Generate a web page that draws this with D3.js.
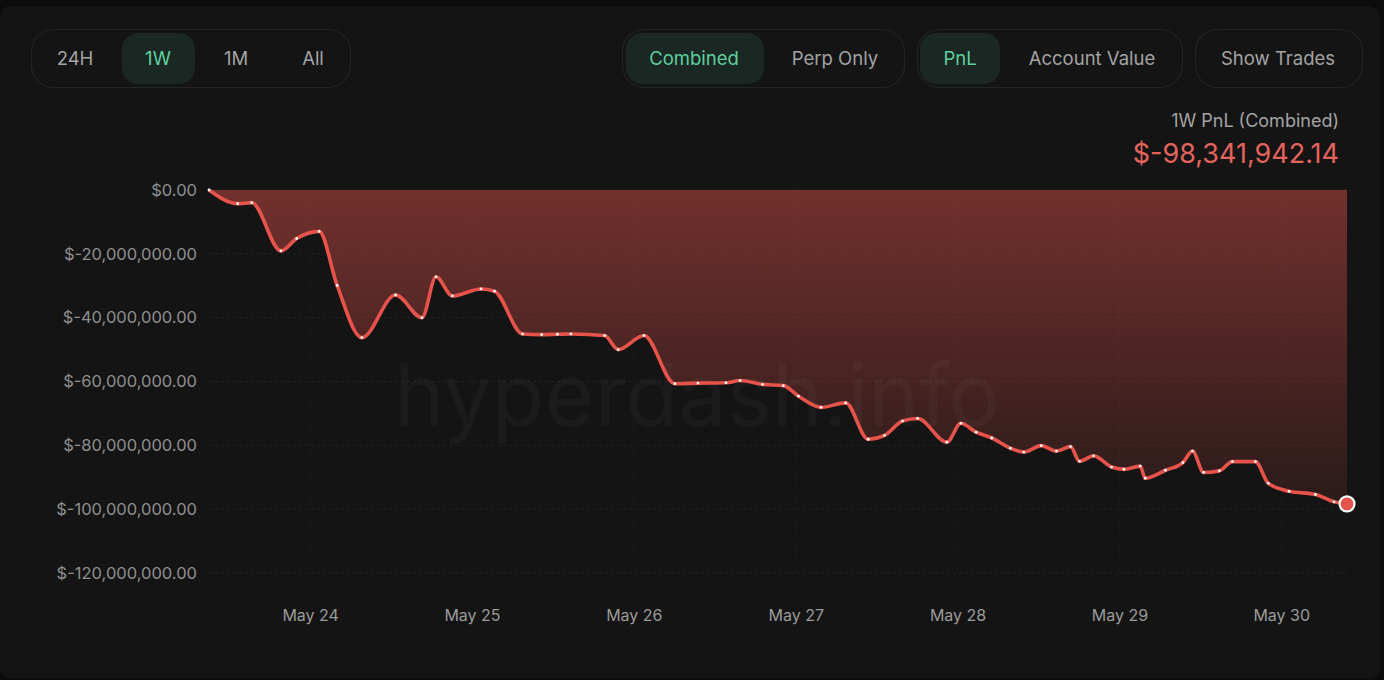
<!DOCTYPE html>
<html><head><meta charset="utf-8">
<script src="https://cdn.jsdelivr.net/npm/d3@7"></script>
<style>
html,body{margin:0;padding:0;background:#0c0c0c;overflow:hidden;}
svg{display:block;font-family:Inter,"Noto Sans",sans-serif;}
</style></head>
<body>
<svg id="c" width="1384" height="680"></svg>
<script>
// ---- data ----
const times = [
"2024-05-23T09:00","2024-05-23T13:15","2024-05-23T15:20","2024-05-23T19:40","2024-05-23T22:00",
"2024-05-24T01:20","2024-05-24T04:00","2024-05-24T07:40","2024-05-24T12:40","2024-05-24T16:35",
"2024-05-24T18:40","2024-05-24T21:05","2024-05-25T01:20","2024-05-25T03:20","2024-05-25T07:30",
"2024-05-25T10:20","2024-05-25T12:40","2024-05-25T14:40","2024-05-25T19:40","2024-05-25T21:40",
"2024-05-26T01:30","2024-05-26T06:05","2024-05-26T09:30","2024-05-26T13:40","2024-05-26T15:45",
"2024-05-26T19:05","2024-05-26T22:10","2024-05-27T00:25","2024-05-27T03:45","2024-05-27T07:25",
"2024-05-27T10:45","2024-05-27T13:10","2024-05-27T15:50","2024-05-27T18:05","2024-05-27T22:25",
"2024-05-28T00:30","2024-05-28T02:45","2024-05-28T05:05","2024-05-28T07:50","2024-05-28T09:50",
"2024-05-28T12:25","2024-05-28T14:40","2024-05-28T16:45","2024-05-28T18:05","2024-05-28T20:10",
"2024-05-28T22:50","2024-05-29T00:40","2024-05-29T03:05","2024-05-29T03:50","2024-05-29T06:50",
"2024-05-29T09:25","2024-05-29T10:50","2024-05-29T12:30","2024-05-29T14:50","2024-05-29T16:45",
"2024-05-29T20:10","2024-05-29T22:05","2024-05-30T01:10","2024-05-30T05:05","2024-05-30T07:50",
"2024-05-30T09:45"];
// PnL in millions of USD
const pnl = [
0,-4.28,-3.97,-19.06,-15.2,
-12.97,-29.9,-46.25,-32.9,-40.0,
-27.2,-33.2,-31.0,-31.7,-45.1,
-45.3,-45.2,-45.1,-45.6,-50.0,
-45.6,-60.7,-60.5,-60.4,-59.7,
-60.9,-61.3,-64.6,-68.1,-66.7,
-78.1,-76.9,-72.4,-71.6,-79.0,
-73.1,-75.9,-77.7,-80.9,-82.1,
-80.1,-81.8,-80.4,-85.0,-83.3,
-86.8,-87.5,-86.5,-90.3,-87.8,
-85.4,-81.8,-88.5,-88.0,-85.1,
-85.1,-91.9,-94.4,-95.4,-97.7,
-98.341942];
const yTicks = [0,-20,-40,-60,-80,-100,-120];
const rangeButtons = ["24H","1W","1M","All"];
const modeButtons = ["Combined","Perp Only"];
const metricButtons = ["PnL","Account Value"];
const titleText = "1W PnL (Combined)";
const totalText = "$-98,341,942.14";

const data = times.map((t,i)=>({t:new Date(t+"Z"), v:pnl[i]*1e6}));

const svg = d3.select("#c");
// panel
svg.append("rect").attr("x",0).attr("y",6).attr("width",1380).attr("height",672).attr("rx",10).attr("fill","#141414");

// ---- buttons ----
const green = "#5fcf9f", grey = "#a3a3a3";
function group(x0,x1,items){
  svg.append("rect").attr("x",x0+0.5).attr("y",29.5).attr("width",x1-x0).attr("height",58).attr("rx",22)
    .attr("fill","#141414").attr("stroke","#242424").attr("stroke-width",1.2);
  items.forEach(it=>{
    if(it.pill){
      svg.append("rect").attr("x",it.pill[0]).attr("y",33).attr("width",it.pill[1]-it.pill[0]).attr("height",51)
        .attr("rx",16).attr("fill","#1a2722");
    }
    svg.append("text").attr("x",it.cx).attr("y",58).attr("text-anchor","middle").attr("dominant-baseline","central")
      .attr("font-size",18.5).attr("fill",it.pill?green:grey).text(it.label);
  });
}
group(31,350,[
  {label:rangeButtons[0],cx:75},
  {label:rangeButtons[1],cx:158,pill:[122,195]},
  {label:rangeButtons[2],cx:236},
  {label:rangeButtons[3],cx:313}]);
group(622,904,[
  {label:modeButtons[0],cx:694,pill:[626,764]},
  {label:modeButtons[1],cx:835}]);
group(917,1182,[
  {label:metricButtons[0],cx:960,pill:[920,1000]},
  {label:metricButtons[1],cx:1092}]);
group(1195,1362,[{label:"Show Trades",cx:1278}]);

// title
svg.append("text").attr("x",1339).attr("y",120).attr("text-anchor","end").attr("dominant-baseline","central")
  .attr("font-size",18).attr("fill","#a3a3a3").text(titleText);
svg.append("text").attr("x",1339).attr("y",153).attr("text-anchor","end").attr("dominant-baseline","central")
  .attr("font-size",27).attr("fill","#e2645c").text(totalText);

// ---- scales ----
const x = d3.scaleUtc().domain(d3.extent(data,d=>d.t)).range([209,1347]);
const y = d3.scaleLinear().domain([-120e6,0]).range([573,190]);

const fmt = v => v<0 ? "$-"+d3.format(",.2f")(-v) : "$"+d3.format(",.2f")(v);

// grid
const dayTicks = x.ticks(d3.utcDay.every(1));
svg.append("g").selectAll("line").data(yTicks).join("line")
  .attr("x1",209).attr("x2",1347).attr("y1",d=>y(d*1e6)).attr("y2",d=>y(d*1e6))
  .attr("stroke","#222").attr("stroke-dasharray","3,3");
svg.append("g").selectAll("line").data(dayTicks).join("line")
  .attr("x1",d=>x(d)).attr("x2",d=>x(d)).attr("y1",190).attr("y2",573)
  .attr("stroke","#1d1d1d").attr("stroke-dasharray","3,3");

// axes
const yAxis = d3.axisLeft(y).tickValues(yTicks.map(d=>d*1e6)).tickFormat(fmt).tickSize(0).tickPadding(0);
const gy = svg.append("g").attr("transform","translate(197,0)").call(yAxis);
gy.select(".domain").remove();
gy.selectAll("text").attr("font-size",16.5).attr("fill","#8f8f8f").attr("font-family","Inter,sans-serif");

const xAxis = d3.axisBottom(x).ticks(d3.utcDay.every(1)).tickFormat(d3.utcFormat("%b %d")).tickSize(0).tickPadding(0);
const gx = svg.append("g").attr("transform","translate(0,610)").call(xAxis);
gx.select(".domain").remove();
gx.selectAll("text").attr("font-size",16).attr("fill","#9a9a9a").attr("font-family","Inter,sans-serif");

// gradient
const defs = svg.append("defs");
const grad = defs.append("linearGradient").attr("id","g")
  .attr("gradientUnits","userSpaceOnUse").attr("x1",0).attr("y1",190).attr("x2",0).attr("y2",510);
grad.append("stop").attr("offset","0%").attr("stop-color","#e5534b").attr("stop-opacity",0.45);
grad.append("stop").attr("offset","100%").attr("stop-color","#e5534b").attr("stop-opacity",0.1);

const curve = d3.curveMonotoneX;
svg.append("path").datum(data)
  .attr("d",d3.area().x(d=>x(d.t)).y0(y(0)).y1(d=>y(d.v)).curve(curve))
  .attr("fill","url(#g)");

// watermark
svg.append("text").attr("x",697).attr("y",395).attr("text-anchor","middle").attr("dominant-baseline","central")
  .attr("font-size",86).attr("fill","#ffffff").attr("fill-opacity",0.03).text("hyperdash.info");

svg.append("path").datum(data)
  .attr("d",d3.line().x(d=>x(d.t)).y(d=>y(d.v)).curve(curve))
  .attr("fill","none").attr("stroke","#e5534b").attr("stroke-width",3.6).attr("stroke-linejoin","round");

svg.append("g").selectAll("circle").data(data.slice(0,-1)).join("circle")
  .attr("cx",d=>x(d.t)).attr("cy",d=>y(d.v)).attr("r",1.4).attr("fill","#ffffff");

const last = data[data.length-1];
svg.append("circle").attr("cx",x(last.t)).attr("cy",y(last.v)).attr("r",7.5)
  .attr("fill","#e5534b").attr("stroke","#ffffff").attr("stroke-width",2.2);
</script>
</body></html>
